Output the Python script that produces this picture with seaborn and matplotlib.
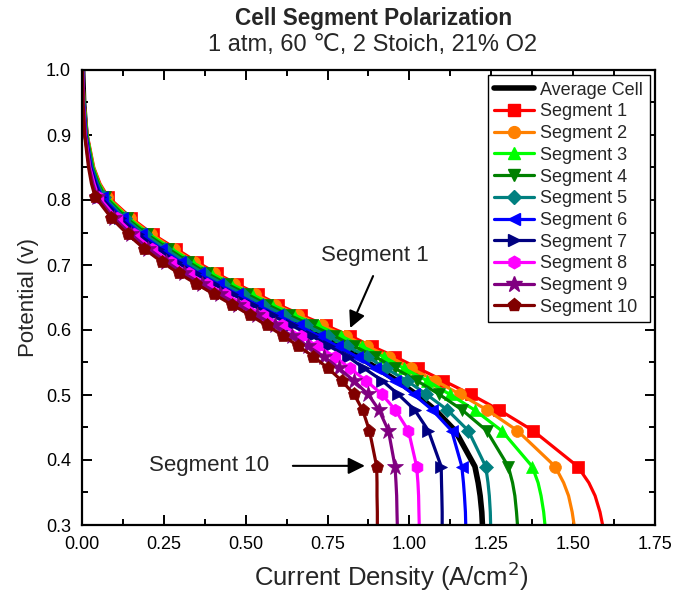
import matplotlib
matplotlib.use("Agg")
import matplotlib.pyplot as plt
from matplotlib.lines import Line2D
from matplotlib.ticker import MultipleLocator
import seaborn as sns
import pandas as pd

# ---------------- data ----------------
V_TOP = [1.00, 0.95, 0.90, 0.85, 0.825]
V_MARK = [0.805, 0.772, 0.747, 0.725, 0.705, 0.687, 0.671, 0.655, 0.639, 0.623,
          0.607, 0.591, 0.575, 0.559, 0.541, 0.522, 0.501, 0.477, 0.445, 0.390]
V_TAIL = [0.365, 0.345, 0.32, 0.30]
V_ALL = V_TOP + V_MARK + V_TAIL

AVG = [0.002, 0.005, 0.012, 0.029, 0.044,
       0.062, 0.124, 0.183, 0.244, 0.302, 0.360, 0.417, 0.477, 0.537, 0.600,
       0.665, 0.728, 0.785, 0.845, 0.901, 0.962, 1.021, 1.079, 1.140, 1.200,
       1.210, 1.216, 1.221, 1.223]
SEG1 = [0.002, 0.006, 0.016, 0.036, 0.055,
        0.079, 0.151, 0.217, 0.287, 0.350, 0.411, 0.472, 0.537, 0.600, 0.670,
        0.745, 0.819, 0.885, 0.956, 1.027, 1.104, 1.187, 1.274, 1.378, 1.514,
        1.548, 1.567, 1.582, 1.590]
SEG2 = [0.002, 0.006, 0.015, 0.035, 0.053,
        0.076, 0.147, 0.212, 0.280, 0.342, 0.403, 0.463, 0.528, 0.590, 0.659,
        0.732, 0.805, 0.869, 0.939, 1.005, 1.079, 1.155, 1.237, 1.330, 1.445,
        1.471, 1.486, 1.497, 1.503]
SEG3 = [0.002, 0.006, 0.015, 0.034, 0.052,
        0.074, 0.142, 0.206, 0.273, 0.335, 0.395, 0.455, 0.518, 0.580, 0.648,
        0.720, 0.790, 0.854, 0.921, 0.983, 1.054, 1.123, 1.199, 1.282, 1.375,
        1.393, 1.402, 1.410, 1.414]
SEG4 = [0.002, 0.005, 0.014, 0.032, 0.050,
        0.070, 0.136, 0.199, 0.264, 0.324, 0.383, 0.442, 0.505, 0.566, 0.632,
        0.702, 0.770, 0.831, 0.896, 0.956, 1.023, 1.091, 1.161, 1.236, 1.302,
        1.315, 1.322, 1.327, 1.330]
SEG5 = [0.002, 0.005, 0.013, 0.030, 0.047,
        0.066, 0.130, 0.191, 0.254, 0.314, 0.372, 0.430, 0.491, 0.552, 0.617,
        0.684, 0.750, 0.809, 0.871, 0.928, 0.992, 1.052, 1.116, 1.180, 1.233,
        1.240, 1.244, 1.247, 1.248]
SEG6 = [0.002, 0.005, 0.012, 0.028, 0.044,
        0.061, 0.122, 0.181, 0.241, 0.300, 0.357, 0.414, 0.474, 0.533, 0.596,
        0.660, 0.723, 0.780, 0.839, 0.895, 0.955, 1.013, 1.070, 1.129, 1.160,
        1.165, 1.168, 1.171, 1.172]
SEG7 = [0.002, 0.004, 0.011, 0.026, 0.041,
        0.056, 0.116, 0.172, 0.231, 0.288, 0.344, 0.401, 0.459, 0.518, 0.579,
        0.640, 0.701, 0.755, 0.812, 0.862, 0.917, 0.966, 1.016, 1.058, 1.097,
        1.098, 1.099, 1.100, 1.100]
SEG8 = [0.002, 0.004, 0.010, 0.024, 0.037,
        0.050, 0.106, 0.160, 0.215, 0.271, 0.326, 0.381, 0.438, 0.495, 0.554,
        0.611, 0.668, 0.719, 0.772, 0.818, 0.868, 0.916, 0.957, 0.997, 1.022,
        1.026, 1.028, 1.029, 1.030]
SEG9 = [0.001, 0.003, 0.009, 0.022, 0.033,
        0.045, 0.098, 0.150, 0.203, 0.257, 0.311, 0.365, 0.420, 0.477, 0.533,
        0.588, 0.642, 0.690, 0.739, 0.785, 0.830, 0.874, 0.907, 0.936, 0.956,
        0.959, 0.961, 0.962, 0.963]
SEG10 = [0.001, 0.003, 0.008, 0.020, 0.029,
         0.040, 0.090, 0.140, 0.190, 0.243, 0.296, 0.349, 0.403, 0.458, 0.513,
         0.564, 0.615, 0.661, 0.707, 0.752, 0.793, 0.831, 0.857, 0.878, 0.900,
         0.901, 0.901, 0.902, 0.902]

SERIES = ["Average Cell"] + [f"Segment {i}" for i in range(1, 11)]
CURRENTS = [AVG, SEG1, SEG2, SEG3, SEG4, SEG5, SEG6, SEG7, SEG8, SEG9, SEG10]
COLORS = ["#000000", "#FF0000", "#FF8000", "#00FF00", "#008000", "#008080",
          "#0000FF", "#000080", "#FF00FF", "#800080", "#800000"]
MARKERS = [None, "s", "o", "^", "v", "D", "<", ">", "h", "*", "p"]
MSIZES = [0, 8, 8.5, 9, 9, 7.5, 9, 9, 9, 12, 9.5]

X_TICKS = [0.00, 0.25, 0.50, 0.75, 1.00, 1.25, 1.50, 1.75]
Y_TICKS = [0.3, 0.4, 0.5, 0.6, 0.7, 0.8, 0.9, 1.0]

rows = []
for name, cur in zip(SERIES, CURRENTS):
    for v, i in zip(V_ALL, cur):
        rows.append({"series": name, "V": v, "I": i})
df = pd.DataFrame(rows)

# ---------------- style ----------------
sns.set_theme(style="ticks")
plt.rcParams["font.family"] = ["Liberation Sans", "DejaVu Sans"]
plt.rcParams["axes.linewidth"] = 1.6

fig = plt.figure(figsize=(6.73, 5.93), dpi=100)
ax = fig.add_axes([82 / 673, 1 - 525 / 593, (655 - 82) / 673, (525 - 70) / 593])

mark_idx = list(range(len(V_TOP), len(V_TOP) + len(V_MARK)))
handles = []
for name, col, mk, ms in zip(SERIES, COLORS, MARKERS, MSIZES):
    sub = df[df["series"] == name]
    lw = 4.0 if mk is None else 2.3
    kw = dict(color=col, linewidth=lw, sort=False, estimator=None, ax=ax,
              legend=False)
    if mk is not None:
        kw.update(marker=mk, markersize=ms, markevery=mark_idx,
                  markeredgecolor=col, markerfacecolor=col, markeredgewidth=0.5)
    sns.lineplot(data=sub, x="I", y="V", **kw)
    h = Line2D([], [], color=col, linewidth=lw,
               marker=mk if mk else None, markersize=ms,
               markeredgecolor=col, markerfacecolor=col)
    handles.append(h)

ax.set_xlim(0, 1.75)
ax.set_ylim(0.3, 1.0)
ax.set_xticks(X_TICKS)
ax.set_xticklabels([f"{t:.2f}" for t in X_TICKS])
ax.set_yticks(Y_TICKS)
ax.set_yticklabels([f"{t:.1f}" for t in Y_TICKS])
ax.xaxis.set_minor_locator(MultipleLocator(0.125))
ax.yaxis.set_minor_locator(MultipleLocator(0.05))
ax.tick_params(which="both", direction="in", top=True, right=True,
               width=1.4, labelsize=13, colors="black")
ax.tick_params(which="major", length=7, pad=8)
ax.tick_params(which="minor", length=4)
for s in ax.spines.values():
    s.set_color("black")
    s.set_visible(True)

ax.set_xlabel("Current Density (A/cm$^2$)", fontsize=18.5)
ax.xaxis.label.set_va("center")
ax.xaxis.set_label_coords((391 - 82) / 573, (525 - 576) / 455)
ax.set_ylabel("Potential (v)", fontsize=16, labelpad=5)

fig.text(374 / 673, 1 - 18 / 593, "Cell Segment Polarization", ha="center",
         va="center", fontsize=16.3, fontweight="bold")
fig.text(373 / 673, 1 - 45 / 593, "1 atm, 60 \u2103, 2 Stoich, 21% O2",
         ha="center", va="center", fontsize=17)

leg = ax.legend(handles, SERIES, loc="upper right", fontsize=13,
                frameon=True, fancybox=False, framealpha=1, edgecolor="black",
                borderaxespad=0.3, handlelength=2.2, handletextpad=0.35,
                labelspacing=0.26, borderpad=0.35, numpoints=1)
leg.get_frame().set_linewidth(1.0)

# annotations
ax.text(0.895, 0.715, "Segment 1", fontsize=16, ha="center", va="center")
ax.annotate("", xy=(0.819, 0.603), xytext=(0.889, 0.683),
            arrowprops=dict(arrowstyle="-|>", color="black", lw=1.5,
                            mutation_scale=25, shrinkA=0, shrinkB=0))
ax.text(0.388, 0.391, "Segment 10", fontsize=16, ha="center", va="center")
ax.annotate("", xy=(0.864, 0.391), xytext=(0.644, 0.391),
            arrowprops=dict(arrowstyle="-|>", color="black", lw=1.5,
                            mutation_scale=25, shrinkA=0, shrinkB=0))

fig.savefig("out.png", dpi=100)
